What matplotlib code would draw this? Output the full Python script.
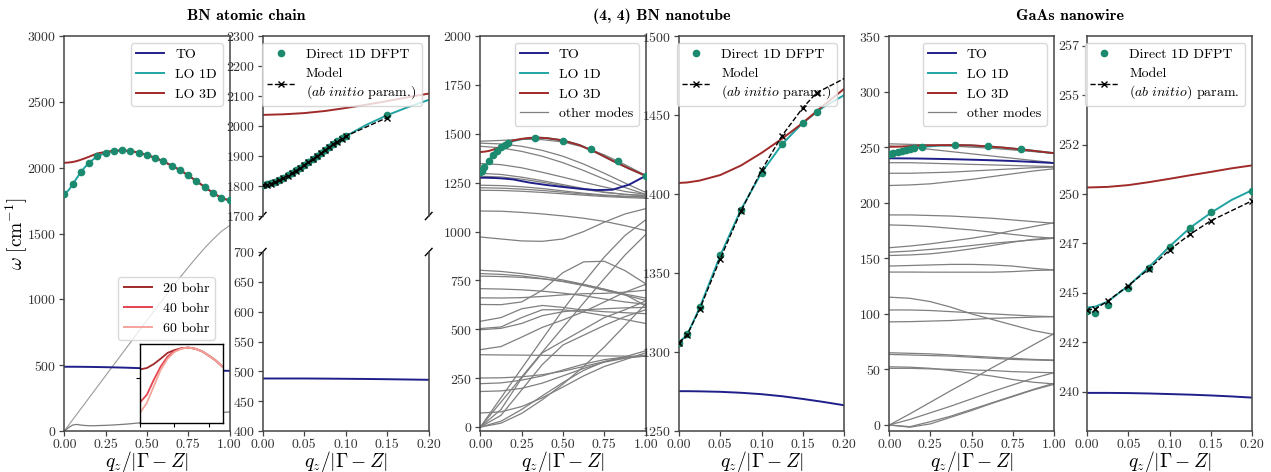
import numpy as np
import matplotlib
matplotlib.use('Agg')
import matplotlib.pyplot as plt
from matplotlib.ticker import MultipleLocator, FormatStrFormatter

plt.rcParams.update({
    'font.family': 'serif',
    'font.serif': ['cmr10'],
    'mathtext.fontset': 'cm',
    'axes.formatter.use_mathtext': True,
    'axes.unicode_minus': False,
    'font.size': 10,
})

C_TO = '#1f1f8a'
C_LO1D = '#22a3a3'
C_LO3D = '#a02a2a'
C_PTS = '#1b8a6e'
C_OTHER = '#7f7f7f'
C_CELL = ['#a02a2a', '#e5434f', '#f4a59c']

# ---------------- BN atomic chain ----------------
q_chain = [0, 0.025, 0.05, 0.075, 0.1, 0.125, 0.15, 0.175, 0.2, 0.25, 0.3, 0.35, 0.4,
           0.45, 0.5, 0.55, 0.6, 0.65, 0.7, 0.75, 0.8, 0.85, 0.9, 0.95, 1.0]
chain_to = [488, 488, 488, 487.8, 487.5, 487.2, 486.8, 486.3, 485.8, 484.7, 483.3, 481.7, 479.8,
            477.7, 475.5, 473.2, 470.8, 468.5, 466.3, 464.2, 462.2, 460.4, 459, 457.8, 457]
chain_lo1d = [1803, 1827, 1871, 1920, 1966, 2004, 2036, 2063, 2087, 2113, 2127, 2131, 2126,
              2115, 2096, 2075, 2048, 2015, 1982, 1941, 1898, 1853, 1809, 1770, 1751]
chain_lo3d = [2037, 2039, 2043, 2050, 2060, 2071, 2083, 2096, 2108, 2120, 2128, 2131, 2126,
              2115, 2096, 2075, 2048, 2015, 1982, 1941, 1898, 1853, 1809, 1770, 1751]
chain_la = [0, 42, 84, 126, 168, 210, 252, 294, 336, 420, 504, 588, 672,
            756, 840, 922, 1004, 1085, 1165, 1243, 1318, 1390, 1455, 1515, 1560]
chain_ta = [0, 25, 45, 50, 45, 42, 40, 40, 41, 43, 46, 50, 55,
            61, 68, 75, 83, 91, 100, 109, 118, 126, 134, 140, 145]

q_chain_pts = [0, 0.05, 0.1, 0.15, 0.2, 0.25, 0.3, 0.35, 0.4, 0.45, 0.5,
               0.55, 0.6, 0.65, 0.7, 0.75, 0.8, 0.85, 0.9, 0.95, 1.0]
chain_pts = [1800, 1875, 1966, 2037, 2088, 2113, 2126, 2131, 2126, 2115, 2096,
             2075, 2048, 2015, 1982, 1941, 1898, 1853, 1809, 1770, 1751]

q_chain_fine = [0, 0.005, 0.01, 0.015, 0.02, 0.025, 0.03, 0.035, 0.04, 0.045, 0.05,
                0.055, 0.06, 0.065, 0.07, 0.075, 0.08, 0.085, 0.09, 0.095, 0.1, 0.15]
chain_dfpt = [1803, 1805, 1809, 1814, 1820, 1827, 1835, 1843, 1852, 1861, 1871,
              1880, 1890, 1900, 1910, 1920, 1930, 1940, 1950, 1959, 1968, 2035]
chain_model = [1803, 1804, 1808, 1813, 1819, 1826, 1834, 1842, 1851, 1860, 1870,
               1879, 1889, 1899, 1909, 1919, 1929, 1939, 1948, 1957, 1966, 2028]

# LO branch near zone centre for different vacuum sizes
q_cell = [0, 0.05, 0.1, 0.15, 0.2, 0.25, 0.3, 0.35, 0.4, 0.45, 0.5, 0.55, 0.6]
cell_lo = {
    '20 bohr': [2037, 2043, 2060, 2083, 2108, 2120, 2128, 2131, 2126, 2115, 2096, 2075, 2048],
    '40 bohr': [1895, 1928, 1992, 2049, 2092, 2116, 2127, 2131, 2126, 2115, 2096, 2075, 2048],
    '60 bohr': [1850, 1893, 1964, 2035, 2083, 2112, 2126, 2131, 2126, 2115, 2096, 2075, 2048],
}

# ---------------- (4,4) BN nanotube ----------------
q_tube = [0, 0.01, 0.025, 0.05, 0.075, 0.1, 0.125, 0.15, 0.175, 0.2, 0.25, 0.3, 0.35,
          0.4, 0.5, 0.6, 0.7, 0.8, 0.9, 1.0]
tube_to = [1275.2, 1275.2, 1275.1, 1274.8, 1274.2, 1273.3, 1272, 1270.3, 1268.4, 1266.3,
           1258, 1250, 1244, 1238, 1228, 1219, 1212, 1214, 1240, 1285]
tube_lo1d = [1306, 1311, 1328, 1361, 1390, 1413.5, 1431.5, 1445, 1455, 1462.5,
             1472, 1478, 1480, 1478, 1466, 1442, 1405, 1362, 1322, 1285]
tube_lo3d = [1407, 1407.3, 1408.5, 1412, 1418, 1426, 1435, 1445, 1456, 1466.5,
             1474, 1479, 1480, 1478, 1466, 1442, 1405, 1362, 1322, 1285]

q_tube_pts = [0, 0.01, 0.025, 0.05, 0.075, 0.1, 0.125, 0.15, 1 / 6, 1 / 3, 1 / 2, 2 / 3, 5 / 6, 1]
tube_dfpt = [1306, 1311.4, 1328.5, 1361.4, 1390, 1413.6, 1431.4, 1444.9, 1451.9,
             1480, 1464, 1421, 1362, 1285]
q_tube_model = [0, 0.01, 0.025, 0.05, 0.075, 0.1, 0.125, 0.15, 1 / 6, 1 / 3]
tube_model = [1306, 1311, 1327, 1359, 1389, 1415, 1437, 1454.5, 1464, 1509]

q_coarse = [0, 0.125, 0.25, 0.375, 0.5, 0.625, 0.75, 0.875, 1.0]
tube_other = [
    [1462, 1466, 1472, 1470, 1458, 1432, 1392, 1342, 1287],
    [1452, 1448, 1436, 1415, 1385, 1345, 1298, 1248, 1200],
    [1436, 1428, 1410, 1385, 1352, 1312, 1268, 1225, 1190],
    [1348, 1342, 1326, 1303, 1278, 1252, 1228, 1205, 1190],
    [1298, 1292, 1278, 1260, 1240, 1220, 1202, 1190, 1185],
    [1283, 1279, 1268, 1252, 1234, 1216, 1200, 1190, 1182],
    [1237, 1235, 1229, 1220, 1208, 1196, 1187, 1181, 1178],
    [1224, 1222, 1217, 1210, 1201, 1192, 1184, 1178, 1175],
    [1211, 1210, 1206, 1200, 1193, 1186, 1179, 1174, 1170],
    [1105, 1104, 1098, 1090, 1080, 1068, 1052, 1030, 1005],
    [972, 962, 952, 950, 962, 1000, 1048, 1090, 1117],
    [0, 150, 300, 450, 600, 740, 870, 980, 1060],
    [0, 128, 256, 384, 510, 635, 760, 880, 985],
    [802, 796, 785, 770, 752, 730, 705, 680, 660],
    [785, 781, 773, 760, 744, 724, 700, 675, 648],
    [772, 770, 766, 758, 746, 728, 705, 678, 620],
    [708, 706, 702, 695, 685, 672, 655, 640, 628],
    [661, 660, 662, 668, 676, 682, 684, 690, 700],
    [627, 626, 640, 700, 790, 845, 848, 800, 733],
    [541, 560, 605, 622, 612, 598, 590, 585, 580],
    [504, 512, 560, 600, 600, 588, 570, 550, 530],
    [498, 505, 530, 570, 590, 600, 605, 610, 612],
    [396, 412, 460, 510, 548, 590, 640, 690, 730],
    [370, 369, 368, 367, 366, 365, 364, 363, 362],
    [251, 252, 257, 268, 286, 310, 335, 355, 368],
    [222, 226, 240, 262, 292, 322, 345, 358, 362],
    [182, 185, 198, 225, 262, 300, 332, 352, 364],
    [72, 78, 105, 150, 205, 262, 310, 345, 380],
    [0, 30, 90, 160, 228, 290, 335, 360, 390],
    [0, 60, 190, 320, 420, 470, 520, 565, 600],
    [0, 90, 250, 380, 440, 500, 560, 600, 645],
    [0, 20, 70, 140, 220, 310, 410, 520, 630],
]

# ---------------- GaAs nanowire ----------------
q_wire = [0, 0.01, 0.025, 0.05, 0.075, 0.1, 0.125, 0.15, 0.175, 0.2, 0.3, 0.4,
          0.5, 0.6, 0.7, 0.8, 0.9, 1.0]
wire_to = [239.93, 239.93, 239.93, 239.92, 239.9, 239.87, 239.84, 239.8, 239.75, 239.69,
           239.4, 239.1, 238.7, 238.3, 237.8, 237.2, 236.5, 235.7]
wire_lo1d = [244.25, 244.3, 244.55, 245.35, 246.3, 247.35, 248.3, 249.05, 249.7, 250.2,
             251.3, 251.8, 251.5, 250.6, 249.4, 248.0, 246.3, 244.6]
wire_lo3d = [250.33, 250.34, 250.36, 250.45, 250.6, 250.77, 250.95, 251.12, 251.3, 251.45,
             251.8, 251.9, 251.6, 250.7, 249.5, 248.0, 246.3, 244.6]

q_wire_pts = [0, 0.01, 0.025, 0.05, 0.075, 0.1, 0.125, 0.15, 0.2, 0.4, 0.6, 0.8]
wire_dfpt = [244.08, 243.99, 244.37, 245.25, 246.23, 247.31, 248.28, 249.07, 250.17,
             251.9, 250.6, 247.9]
q_wire_model = [0, 0.01, 0.025, 0.05, 0.075, 0.1, 0.125, 0.15, 0.2]
wire_model = [244.13, 244.18, 244.58, 245.36, 246.21, 247.17, 247.97, 248.65, 249.66]

wire_other = [
    [253, 252.5, 252, 251, 250, 249, 247.5, 246, 244.5],
    [251, 250, 248, 246, 244, 242, 240, 238, 236],
    [236, 236, 235.5, 235, 234.5, 234, 233.5, 233, 232.5],
    [226.5, 226.5, 227, 227.5, 228.5, 229.5, 230.5, 231.5, 232],
    [215.5, 216, 217, 219, 221, 223.5, 226, 228.5, 230.5],
    [189, 189, 188.5, 188, 187, 186, 184.5, 183, 181.5],
    [180, 179.5, 178.5, 177, 175.5, 173.5, 171.5, 169.5, 168],
    [159.5, 161, 163, 165.5, 168, 171, 175, 178.5, 182],
    [155.5, 156.5, 158, 159.5, 161.5, 163.5, 165, 166.5, 168],
    [152.5, 153, 154, 156, 158.5, 161.5, 164.5, 167, 168.5],
    [143, 143.5, 144, 144.5, 144.5, 144, 143, 141, 139.5],
    [137.6, 137.6, 137.5, 137.5, 137.5, 137.5, 138, 139, 139.5],
    [115, 114, 111, 106, 100, 95, 90, 85, 81.5],
    [103.5, 103.5, 103, 102, 101, 100, 99, 98, 97.5],
    [92.8, 93, 93.5, 94, 95, 96, 96.5, 97, 97.5],
    [65, 64.5, 64, 63, 62, 61, 60, 59, 58.5],
    [63.5, 63, 62.5, 62, 61, 60, 59, 58.5, 58],
    [52.4, 52, 51, 49, 46.5, 44, 41, 38.5, 37],
    [51, 51, 50.5, 50, 49.5, 49, 48, 47.5, 47],
    [0, 10, 20.5, 31, 41, 51.5, 61.5, 72, 82],
    [0, 5, 11, 17, 23.5, 30, 36, 42, 47],
    [0, -1.5, 3, 8, 14, 20, 26, 32, 37.5],
    [0, -2, 1, 7, 13, 19.5, 25.5, 31.5, 36.5],
]

W, H = 1271, 472
LEG = dict(fontsize=10, framealpha=0.8, edgecolor='#d0d0d0')


def box(x0, x1, y0, y1):
    return [x0 / W, 1 - y1 / H, (x1 - x0) / W, (y1 - y0) / H]


def style(ax):
    for s in ax.spines.values():
        s.set_color('#444444')
        s.set_linewidth(1.1)
    ax.tick_params(direction='out', length=3.5, width=0.9, labelsize=10,
                   color='#444444', labelcolor='#333333', pad=2)


def xlabel(ax):
    ax.set_xlabel(r'$q_z/|\Gamma - Z|$', fontsize=14, labelpad=-1.5)


def draw_main(ax, q, to, lo1d, lo3d, qp, pts):
    ax.plot(q, to, color=C_TO, lw=1.4, label='TO')
    ax.plot(q, lo1d, color=C_LO1D, lw=1.4, label='LO 1D')
    ax.plot(q, lo3d, color=C_LO3D, lw=1.4, label='LO 3D')
    ax.plot(qp, pts, 'o', color=C_PTS, ms=4.5, zorder=5)


def draw_zoom(ax, q, to, lo1d, lo3d, qp, pts, qm, model, model_label):
    ax.plot(q, to, color=C_TO, lw=1.4)
    ax.plot(q, lo1d, color=C_LO1D, lw=1.4)
    ax.plot(q, lo3d, color=C_LO3D, lw=1.4)
    ax.plot(qp, pts, 'o', color=C_PTS, ms=4.5, zorder=5, label='Direct 1D DFPT')
    ax.plot(qm, model, '--x', color='k', lw=1, ms=4, mew=1, zorder=6, label=model_label)


def full_zone_axis(ax, step):
    ax.set_xlim(0, 1)
    ax.xaxis.set_major_locator(MultipleLocator(0.25))
    ax.xaxis.set_major_formatter(FormatStrFormatter('%.2f'))
    ax.yaxis.set_major_locator(MultipleLocator(step))
    style(ax)
    xlabel(ax)


def zoom_axis(ax):
    ax.set_xlim(0, 0.2)
    ax.xaxis.set_major_locator(MultipleLocator(0.05))
    ax.xaxis.set_major_formatter(FormatStrFormatter('%.2f'))
    style(ax)


fig = plt.figure(figsize=(W / 100, H / 100), dpi=100)

label_a = 'Model\n(' + r'$\mathit{ab\ initio}$' + ' param.)'
label_b = 'Model\n(' + r'$\mathit{ab\ initio}$' + ') param.'

# ---- panel 1: BN chain, full zone ----
ax1 = fig.add_axes(box(64.3, 229.5, 36, 431))
ax1.plot(q_chain, chain_la, color='#9a9a9a', lw=0.8)
ax1.plot(q_chain, chain_ta, color='#7a7a7a', lw=0.9)
draw_main(ax1, q_chain, chain_to, chain_lo1d, chain_lo3d, q_chain_pts, chain_pts)
ax1.set_ylim(0, 3000)
full_zone_axis(ax1, 500)
leg1 = ax1.legend(loc='upper right', **LEG)
ax1.add_artist(leg1)
cell_lines = [plt.Line2D([], [], color=c, lw=1.4, label=name) for name, c in zip(cell_lo, C_CELL)]
ax1.legend(handles=cell_lines, loc='lower right', bbox_to_anchor=(0.912, 0.23),
           borderaxespad=0, **LEG)

axin = fig.add_axes(box(140, 222.7, 344.3, 423.3))
for (name, vals), c in zip(cell_lo.items(), C_CELL):
    axin.plot(q_cell, vals, color=c, lw=1.3)
axin.set_xlim(0, 0.6)
axin.set_ylim(1805, 2145)
axin.set_xticks([0, 0.25, 0.5])
axin.set_yticks([2000])
axin.set_xticklabels([])
axin.set_yticklabels([])
for s in axin.spines.values():
    s.set_color('k')
    s.set_linewidth(1.0)
axin.tick_params(direction='out', length=3, width=0.8)

# ---- panel 2: BN chain, zone centre with broken axis ----
ax2t = fig.add_axes(box(262.7, 428.7, 36, 216))
ax2b = fig.add_axes(box(262.7, 428.7, 252, 431))
for ax in (ax2t, ax2b):
    draw_zoom(ax, q_chain, chain_to, chain_lo1d, chain_lo3d,
              q_chain_fine, chain_dfpt, q_chain_fine, chain_model, label_a)
    zoom_axis(ax)
ax2t.set_ylim(1700, 2300)
ax2b.set_ylim(400, 700)
ax2t.yaxis.set_major_locator(MultipleLocator(100))
ax2b.yaxis.set_major_locator(MultipleLocator(50))
ax2t.spines['bottom'].set_visible(False)
ax2b.spines['top'].set_visible(False)
ax2t.tick_params(bottom=False, labelbottom=False)
xlabel(ax2b)
ax2t.legend(loc='upper right', **LEG)
d = 0.02
kw = dict(color='k', clip_on=False, lw=1)
ax2t.plot((-d, d), (-d, d), transform=ax2t.transAxes, **kw)
ax2t.plot((1 - d, 1 + d), (-d, d), transform=ax2t.transAxes, **kw)
ax2b.plot((-d, d), (1 - d, 1 + d), transform=ax2b.transAxes, **kw)
ax2b.plot((1 - d, 1 + d), (1 - d, 1 + d), transform=ax2b.transAxes, **kw)

# ---- panel 3: BN nanotube, full zone ----
ax3 = fig.add_axes(box(480.3, 645.7, 36, 431))
for i, branch in enumerate(tube_other):
    ax3.plot(q_coarse, branch, color=C_OTHER, lw=0.9,
             label='other modes' if i == 0 else None, zorder=1)
draw_main(ax3, q_tube, tube_to, tube_lo1d, tube_lo3d, q_tube_pts, tube_dfpt)
ax3.set_ylim(-20, 2000)
full_zone_axis(ax3, 250)
h, l = ax3.get_legend_handles_labels()
order = [l.index(k) for k in ['TO', 'LO 1D', 'LO 3D', 'other modes']]
ax3.legend([h[i] for i in order], [l[i] for i in order], loc='upper right', **LEG)

# ---- panel 4: BN nanotube, zone centre ----
ax4 = fig.add_axes(box(679, 844, 36, 431))
draw_zoom(ax4, q_tube, tube_to, tube_lo1d, tube_lo3d,
          q_tube_pts, tube_dfpt, q_tube_model, tube_model, label_a)
zoom_axis(ax4)
ax4.set_ylim(1250, 1500)
ax4.yaxis.set_major_locator(MultipleLocator(50))
xlabel(ax4)
ax4.legend(loc='upper right', **LEG)

# ---- panel 5: GaAs nanowire, full zone ----
ax5 = fig.add_axes(box(889.3, 1053.7, 36, 431))
for i, branch in enumerate(wire_other):
    ax5.plot(q_coarse, branch, color=C_OTHER, lw=0.9,
             label='other modes' if i == 0 else None, zorder=1)
draw_main(ax5, q_wire, wire_to, wire_lo1d, wire_lo3d, q_wire_pts, wire_dfpt)
ax5.set_ylim(-5.4, 350)
full_zone_axis(ax5, 50)
h, l = ax5.get_legend_handles_labels()
order = [l.index(k) for k in ['TO', 'LO 1D', 'LO 3D', 'other modes']]
ax5.legend([h[i] for i in order], [l[i] for i in order], loc='upper right', **LEG)

# ---- panel 6: GaAs nanowire, zone centre ----
ax6 = fig.add_axes(box(1087, 1252.3, 36, 431))
draw_zoom(ax6, q_wire, wire_to, wire_lo1d, wire_lo3d,
          q_wire_pts, wire_dfpt, q_wire_model, wire_model, label_b)
zoom_axis(ax6)
ax6.set_ylim(238, 258)
ax6.yaxis.set_major_locator(MultipleLocator(2.5))
ax6.yaxis.set_major_formatter(FormatStrFormatter('%d'))
xlabel(ax6)
ax6.legend(loc='upper right', **LEG)

# titles and common y label
for xc, title in [(246.5, 'BN atomic chain'), (662, '(4, 4) BN nanotube'),
                  (1070.5, 'GaAs nanowire')]:
    fig.text(xc / W, 1 - 16.5 / H, title, ha='center', va='center',
             fontfamily='cmb10', fontsize=11.5)
fig.text(17 / W, 0.505, r'$\omega\ [\mathrm{cm}^{-1}]$', rotation=90,
         ha='center', va='center', fontsize=14)

fig.savefig('out.png', dpi=100)
